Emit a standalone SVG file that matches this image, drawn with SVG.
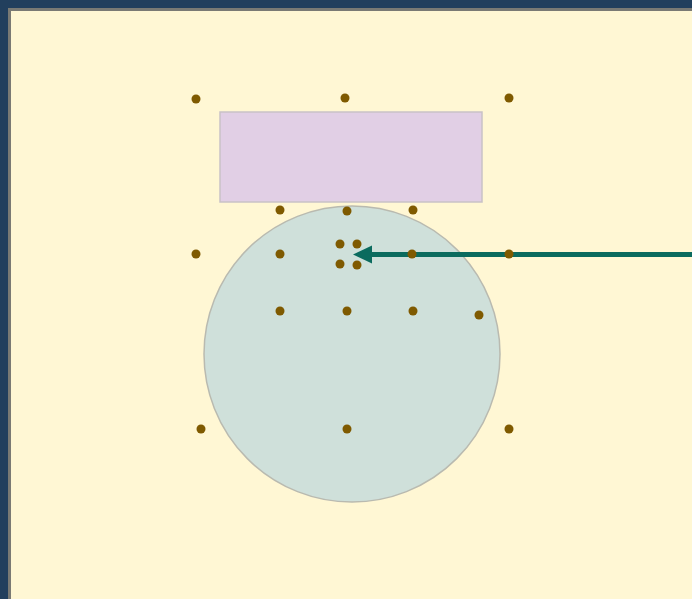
<svg xmlns="http://www.w3.org/2000/svg" width="692" height="599" viewBox="0 0 692 599">
<style>
.dot{fill:#7f5a00}
.conn{stroke:#0b6b5e;stroke-width:5;fill:none}
</style>
<defs>
<marker id="ah" markerWidth="4" markerHeight="4" refX="0" refY="2" orient="auto" markerUnits="strokeWidth">
<path d="M4,0 L0,2 L4,4 Z" fill="#0b6b5e"/>
</marker>
</defs>
<rect x="0" y="0" width="692" height="599" fill="#223f5d"/>
<rect x="9.5" y="9.5" width="690" height="600" fill="#fff7d4" stroke="#7a7a74" stroke-width="3"/>
<g id="rect-node">
<rect x="220" y="112" width="262" height="90" fill="#e1cfe5" stroke="#c9c2c6" stroke-width="1.5"/>
</g>
<g id="circle-node">
<circle cx="352" cy="354" r="148" fill="#cfe0da" stroke="#b9bab0" stroke-width="1.5"/>
</g>
<g id="connectors">
<line class="conn" x1="692" y1="254.5" x2="371" y2="254.5"/>
<path d="M353,254.5 L372,245.5 L372,263.5 Z" fill="#0b6b5e"/>
</g>
<g id="dots">
<circle class="dot" cx="196" cy="99" r="4.5"/>
<circle class="dot" cx="345" cy="98" r="4.5"/>
<circle class="dot" cx="509" cy="98" r="4.5"/>
<circle class="dot" cx="280" cy="210" r="4.5"/>
<circle class="dot" cx="347" cy="211" r="4.5"/>
<circle class="dot" cx="413" cy="210" r="4.5"/>
<circle class="dot" cx="196" cy="254" r="4.5"/>
<circle class="dot" cx="280" cy="254" r="4.5"/>
<circle class="dot" cx="340" cy="244" r="4.5"/>
<circle class="dot" cx="357" cy="244" r="4.5"/>
<circle class="dot" cx="340" cy="264" r="4.5"/>
<circle class="dot" cx="357" cy="265" r="4.5"/>
<circle class="dot" cx="412" cy="254" r="4.5"/>
<circle class="dot" cx="509" cy="254" r="4.5"/>
<circle class="dot" cx="280" cy="311" r="4.5"/>
<circle class="dot" cx="347" cy="311" r="4.5"/>
<circle class="dot" cx="413" cy="311" r="4.5"/>
<circle class="dot" cx="479" cy="315" r="4.5"/>
<circle class="dot" cx="201" cy="429" r="4.5"/>
<circle class="dot" cx="347" cy="429" r="4.5"/>
<circle class="dot" cx="509" cy="429" r="4.5"/>
</g>
</svg>
